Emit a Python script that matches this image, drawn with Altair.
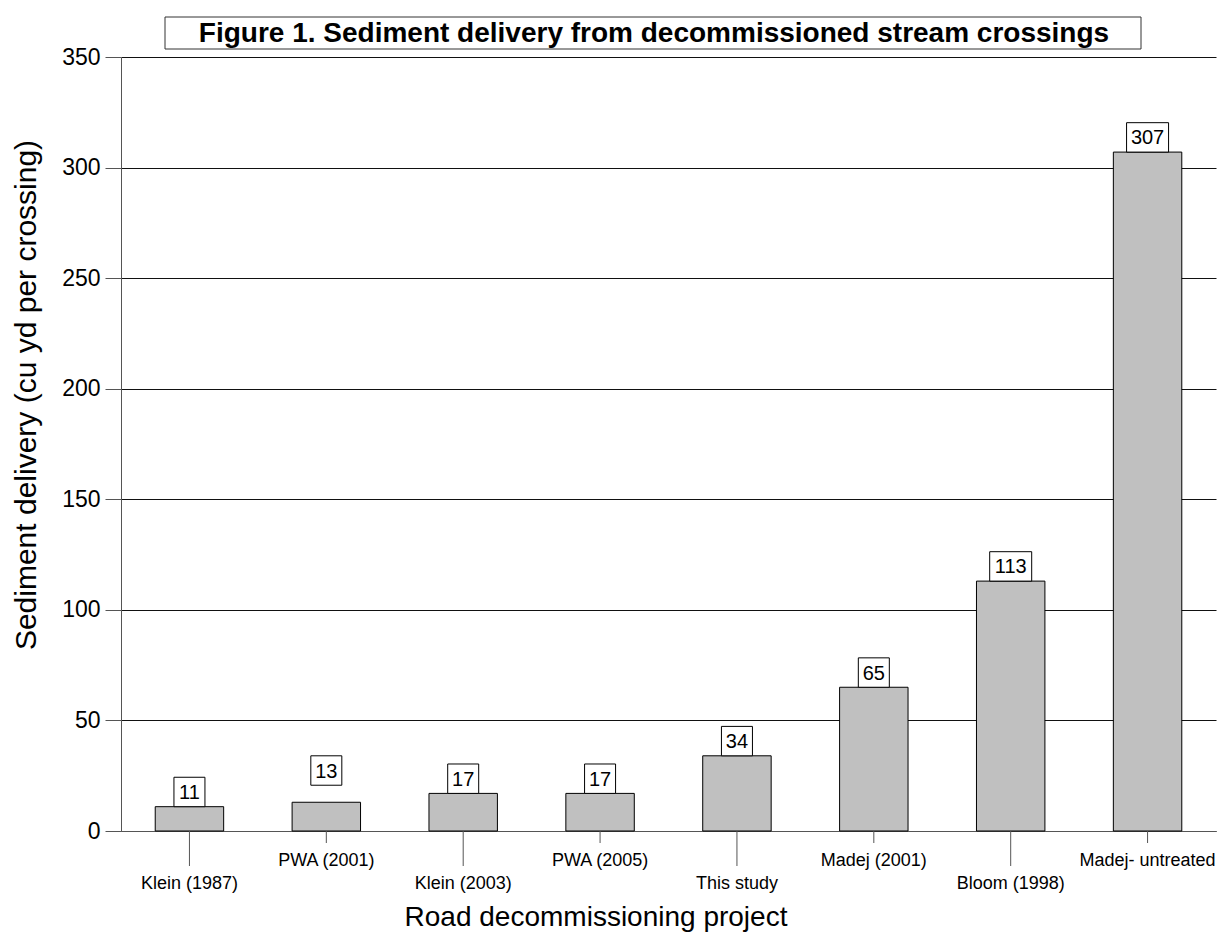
import altair as alt
import pandas as pd

# ---- data ----
projects = ["Klein (1987)", "PWA (2001)", "Klein (2003)", "PWA (2005)",
            "This study", "Madej (2001)", "Bloom (1998)", "Madej- untreated"]
delivery = [11, 13, 17, 17, 34, 65, 113, 307]
y_ticks = [0, 50, 100, 150, 200, 250, 300, 350]

title_text = "Figure 1. Sediment delivery from decommissioned stream crossings"
x_title = "Road decommissioning project"
y_title = "Sediment delivery (cu yd per crossing)"

df = pd.DataFrame({"project": projects, "value": delivery})

W, H = 1095, 774
FONT = "Liberation Sans"

xenc = alt.X("project:N", sort=projects,
             scale=alt.Scale(domain=projects, paddingInner=0.5, paddingOuter=0.25),
             axis=alt.Axis(labels=False, ticks=False, title=None, grid=False,
                           domainColor="#555", domainWidth=1))
yscale = alt.Scale(domain=[0, 350], nice=False, zero=True)

base = alt.Chart(df)

bars = base.mark_bar(fill="#c0c0c0", stroke="black", strokeWidth=1).encode(
    x=xenc,
    y=alt.Y("value:Q", scale=yscale,
            axis=alt.Axis(values=y_ticks, tickSize=16, labelPadding=5,
                          labelFont=FONT, labelFontSize=23, labelColor="black",
                          tickColor="#555", domainColor="#555",
                          grid=True, gridColor="#111", gridWidth=1, title=None)),
)

# value label boxes
lab = base.transform_calculate(
    lift="datum.project == 'PWA (2001)' ? 7.7 : 0"
).transform_calculate(
    bot="datum.value + datum.lift",
    top="datum.value + datum.lift + 13.3",
    mid="datum.value + datum.lift + 6.65",
)
box2 = lab.transform_filter("datum.value < 100").mark_bar(
    width=31, fill="white", stroke="black", strokeWidth=1
).encode(x=alt.X("project:N", sort=projects), y=alt.Y("bot:Q", scale=yscale), y2="top:Q")
box3 = lab.transform_filter("datum.value >= 100").mark_bar(
    width=42, fill="white", stroke="black", strokeWidth=1
).encode(x=alt.X("project:N", sort=projects), y=alt.Y("bot:Q", scale=yscale), y2="top:Q")
vtext = lab.mark_text(font=FONT, fontSize=20, baseline="middle", align="center",
                      color="black", dy=1).encode(
    x=alt.X("project:N", sort=projects), y=alt.Y("mid:Q", scale=yscale),
    text=alt.Text("value:Q"))

# staggered category ticks and labels
idx = base.transform_window(rn="row_number()")
odd = idx.transform_filter("datum.rn % 2 == 1")
even = idx.transform_filter("datum.rn % 2 == 0")
tick_long = odd.mark_rule(color="#555", strokeWidth=1).encode(
    x=alt.X("project:N", sort=projects), y=alt.value(H), y2=alt.value(H + 35))
tick_short = even.mark_rule(color="#555", strokeWidth=1).encode(
    x=alt.X("project:N", sort=projects), y=alt.value(H), y2=alt.value(H + 12))
lab_long = odd.mark_text(font=FONT, fontSize=18, baseline="alphabetic", color="black").encode(
    x=alt.X("project:N", sort=projects), y=alt.value(H + 58), text="project:N")
lab_short = even.mark_text(font=FONT, fontSize=18, baseline="alphabetic", color="black").encode(
    x=alt.X("project:N", sort=projects), y=alt.value(H + 35), text="project:N")

# titles
one = alt.Chart(alt.Data(values=[{"t": title_text, "xt": x_title, "yt": y_title}]))
title_box = one.mark_rect(fill="white", stroke="#333", strokeWidth=1).encode(
    x=alt.value(44), x2=alt.value(1020), y=alt.value(-40), y2=alt.value(-8))
title_txt = one.mark_text(font=FONT, fontSize=28, fontWeight="bold", baseline="middle",
                          align="center", color="black").encode(
    x=alt.value(533), y=alt.value(-23), text="t:N")
xt = one.mark_text(font=FONT, fontSize=28, baseline="alphabetic", align="center",
                   color="black").encode(x=alt.value(475), y=alt.value(869), text="xt:N")
yt = one.mark_text(font=FONT, fontSize=30, baseline="middle", align="center", angle=270,
                   color="black").encode(x=alt.value(-94), y=alt.value(338), text="yt:N")

chart = alt.layer(
    bars, box2, box3, vtext, tick_long, tick_short, lab_long, lab_short,
    title_box, title_txt, xt, yt
).properties(
    width=W, height=H,
    autosize=alt.AutoSizeParams(type="none"),
    padding={"left": 121, "top": 57, "right": 4, "bottom": 112},
    background="white",
).configure_view(stroke=None)

chart.save("out.html", embed_options={"renderer": "svg", "actions": False})
